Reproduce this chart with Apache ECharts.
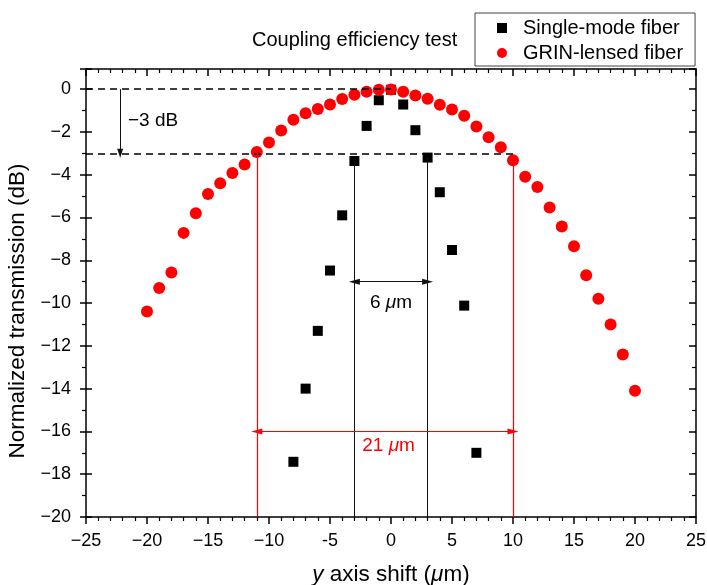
<!DOCTYPE html>
<html>
<head>
<meta charset="utf-8">
<script src="https://cdn.jsdelivr.net/npm/echarts@6/dist/echarts.min.js"></script>
<style>html,body{margin:0;padding:0;background:#fff}#c{width:707px;height:585px}</style>
</head>
<body>
<div id="c"></div>
<script>
// ---- data ----
const smfX = [-8, -7, -6, -5, -4, -3, -2, -1, 0, 1, 2, 3, 4, 5, 6, 7];
const smfY = [-17.42, -14.0, -11.3, -8.48, -5.9, -3.36, -1.72, -0.52, -0.03, -0.72, -1.92, -3.2, -4.82, -7.52, -10.12, -17.0];
const grinX = [-20,-19,-18,-17,-16,-15,-14,-13,-12,-11,-10,-9,-8,-7,-6,-5,-4,-3,-2,-1,0,1,2,3,4,5,6,7,8,9,10,11,12,13,14,15,16,17,18,19,20];
const grinY = [-10.4,-9.3,-8.57,-6.72,-5.8,-4.9,-4.4,-3.92,-3.52,-2.94,-2.5,-1.94,-1.43,-1.13,-0.93,-0.72,-0.46,-0.26,-0.12,-0.03,-0.02,-0.12,-0.3,-0.45,-0.73,-0.95,-1.25,-1.75,-2.25,-2.72,-3.33,-4.1,-4.58,-5.53,-6.42,-7.35,-8.7,-9.8,-11.0,-12.4,-14.1];
const xTickValues = [-25,-20,-15,-10,-5,0,5,10,15,20,25];
const xTickLabels = ['\u221225','\u221220','\u221215','\u221210','-5','0','5','10','15','20','25'];
const yTickValues = [-20,-18,-16,-14,-12,-10,-8,-6,-4,-2,0];
const yTickLabels = ['\u221220','\u221218','\u221216','\u221214','\u221212','\u221210','\u22128','\u22126','\u22124','\u22122','0'];
const seriesNames = ['Single-mode fiber', 'GRIN-lensed fiber'];
const titleText = 'Coupling efficiency test';

const FF = '"Liberation Sans", Arial, sans-serif';
function lab(values, labels) {
  return function (v) {
    for (let i = 0; i < values.length; i++) if (Math.abs(values[i] - v) < 1e-6) return labels[i];
    return '';
  };
}
const RED = '#ff0000';
const redLine = {color: RED, width: 1.2, type: 'solid', opacity: 1};
const blkLine = {color: '#111', width: 1, type: 'solid', opacity: 1};
const dashLine = {color: '#000', width: 1.5, type: [7, 5], opacity: 1};
const chart = echarts.init(document.getElementById('c'), null, {renderer: 'canvas'});
const axisLineStyle = {color: '#000', width: 1.5};
const option = {
  animation: false,
  backgroundColor: '#fff',
  title: {
    text: titleText, left: 252, top: 30, padding: 0,
    textStyle: {fontFamily: FF, fontSize: 20, fontWeight: 'normal', color: '#000'}
  },
  legend: {
    data: seriesNames, orient: 'vertical', left: 475, top: 13,
    padding: [5, 12, 3, 22], itemGap: 5, itemWidth: 10, itemHeight: 10,
    borderColor: '#444', borderWidth: 1, selectedMode: false,
    textStyle: {fontFamily: FF, fontSize: 20, color: '#000', padding: [0, 0, 0, 11]}
  },
  grid: {left: 86, right: 11, top: 69, bottom: 68, containLabel: false, outerBoundsMode: 'none'},
  xAxis: [
    {
      type: 'value', min: -25, max: 25, interval: 5, position: 'bottom',
      name: '{i|y} axis shift ({i|\u03bc}m)', nameLocation: 'middle', nameGap: 46,
      nameTextStyle: {fontFamily: FF, fontSize: 22.5, color: '#000', rich: {i: {fontFamily: FF, fontSize: 22.5, fontStyle: 'italic', color: '#000'}}},
      axisLine: {show: true, onZero: false, lineStyle: axisLineStyle},
      axisTick: {show: true, inside: false, length: 7, lineStyle: {color: '#000', width: 1.5}},
      minorTick: {show: true, splitNumber: 5, length: 4, lineStyle: {color: '#000', width: 1.2}},
      axisLabel: {fontFamily: FF, fontSize: 18, color: '#000', margin: 15, formatter: lab(xTickValues, xTickLabels)},
      splitLine: {show: false}
    },
    {
      type: 'value', min: -25, max: 25, interval: 5, position: 'top',
      axisLine: {show: true, onZero: false, lineStyle: axisLineStyle},
      axisTick: {show: true, inside: true, length: 7, lineStyle: {color: '#000', width: 1.5}},
      minorTick: {show: true, splitNumber: 5, length: 4, lineStyle: {color: '#000', width: 1.2}},
      axisLabel: {show: false}, splitLine: {show: false}
    }
  ],
  yAxis: [
    {
      type: 'value', min: -20, max: 0.94, interval: 2, position: 'left',
      name: 'Normalized transmission (dB)', nameLocation: 'middle', nameGap: 48,
      nameTextStyle: {fontFamily: FF, fontSize: 22.5, color: '#000', padding: [0, 36, 0, 0]},
      axisLine: {show: true, onZero: false, lineStyle: axisLineStyle},
      axisTick: {show: true, inside: false, length: 6, lineStyle: {color: '#000', width: 1.5}},
      minorTick: {show: true, splitNumber: 2, length: 4, lineStyle: {color: '#000', width: 1.2}},
      axisLabel: {fontFamily: FF, fontSize: 18, color: '#000', margin: 15, formatter: lab(yTickValues, yTickLabels)},
      splitLine: {show: false}
    },
    {
      type: 'value', min: -20, max: 0.94, interval: 2, position: 'right',
      axisLine: {show: true, onZero: false, lineStyle: axisLineStyle},
      axisTick: {show: true, inside: true, length: 7, lineStyle: {color: '#000', width: 1.5}},
      minorTick: {show: true, splitNumber: 2, length: 4, lineStyle: {color: '#000', width: 1.2}},
      axisLabel: {show: false}, splitLine: {show: false}
    },
    {
      type: 'value', min: -20, max: 0.94, interval: 2, position: 'left', offset: 0,
      axisLine: {show: false, onZero: false},
      axisTick: {show: true, inside: true, length: 6, lineStyle: {color: '#000', width: 1.5}},
      axisLabel: {show: false}, splitLine: {show: false}
    }
  ],
  series: [
    {
      name: 'annotations-black', type: 'line', data: [], z: 2, silent: true,
      markLine: {
        silent: true, animation: false, symbol: ['none', 'none'],
        label: {show: false}, emphasis: {disabled: true},
        lineStyle: blkLine, itemStyle: {color: '#000'},
        data: [
          [{coord: [-25, 0], lineStyle: dashLine}, {coord: [0, 0]}],
          [{coord: [-25, -3], lineStyle: dashLine}, {coord: [10, -3]}],
          [{coord: [-22.2, 0]}, {coord: [-22.2, -3], symbol: 'triangle', symbolSize: [6, 9]}],
          [{coord: [-3, -3.36]}, {coord: [-3, -20]}],
          [{coord: [3, -3.2]}, {coord: [3, -20]}],
          [{coord: [-3, -9], symbol: 'triangle', symbolSize: [6, 11]}, {coord: [3, -9], symbol: 'triangle', symbolSize: [6, 11]}]
        ]
      },
      markPoint: {
        silent: true, animation: false, symbol: 'circle', symbolSize: 1,
        itemStyle: {color: 'rgba(0,0,0,0)'},
        data: [
          {coord: [-19.5, -1.48], label: {show: true, position: 'inside', formatter: '\u22123 dB', fontFamily: FF, fontSize: 19, color: '#000'}},
          {coord: [0, -10.0], label: {show: true, position: 'inside', formatter: '6 {i|\u03bc}m', fontFamily: FF, fontSize: 19, color: '#000', rich: {i: {fontFamily: FF, fontSize: 19, fontStyle: 'italic', color: '#000'}}}}
        ]
      }
    },
    {
      name: 'annotations-red', type: 'line', data: [], z: 2, silent: true,
      itemStyle: {color: RED}, lineStyle: {color: RED},
      markLine: {
        silent: true, animation: false, symbol: ['none', 'none'],
        label: {show: false}, emphasis: {disabled: true},
        lineStyle: redLine, itemStyle: {color: RED},
        data: [
          [{coord: [-11, -2.94]}, {coord: [-11, -20]}],
          [{coord: [10, -3.33]}, {coord: [10, -20]}],
          [{coord: [-11, -16], symbol: 'triangle', symbolSize: [6, 11]}, {coord: [10, -16], symbol: 'triangle', symbolSize: [6, 11]}]
        ]
      },
      markPoint: {
        silent: true, animation: false, symbol: 'circle', symbolSize: 1,
        itemStyle: {color: 'rgba(0,0,0,0)'},
        data: [
          {coord: [-0.2, -16.65], label: {show: true, position: 'inside', formatter: '21 {i|\u03bc}m', fontFamily: FF, fontSize: 19, color: RED, rich: {i: {fontFamily: FF, fontSize: 19, fontStyle: 'italic', color: RED}}}}
        ]
      }
    },
    {
      name: seriesNames[0], type: 'scatter', symbol: 'rect', symbolSize: 10,
      itemStyle: {color: '#000', opacity: 1},
      data: smfX.map((x, i) => [x, smfY[i]]), z: 3
    },
    {
      name: seriesNames[1], type: 'scatter', symbol: 'circle', symbolSize: 12,
      itemStyle: {color: RED, opacity: 1},
      data: grinX.map((x, i) => [x, grinY[i]]), z: 4
    }
  ]
};
chart.setOption(option);
</script>
</body>
</html>
